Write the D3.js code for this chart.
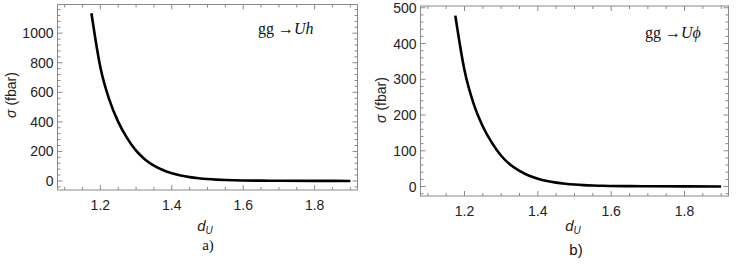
<!DOCTYPE html>
<html>
<head>
<meta charset="utf-8">
<script src="https://cdn.jsdelivr.net/npm/d3@7"></script>
<style>
  body { margin: 0; background: #fff; }
  svg { display: block; }
  .tick-label { font-family: "Liberation Sans", Arial, sans-serif; font-size: 14px; fill: #222; }
</style>
</head>
<body>
<svg id="chart" width="747" height="270"></svg>
<script>
const dU = [1.175, 1.2, 1.225, 1.25, 1.275, 1.3, 1.325, 1.35, 1.375, 1.4, 1.425, 1.45, 1.475, 1.5,
    1.525, 1.55, 1.575, 1.6, 1.65, 1.7, 1.8, 1.9]
// sigma (fbar) for gg -> U h
const sigmaUh = [1135, 770, 550, 400, 290, 205, 146, 104, 74, 52, 37, 26, 18.5, 13,
    9.3, 6.6, 4.7, 3.3, 2.3, 1.6, 0.8, 0.4]
// sigma (fbar) for gg -> U phi
const sigmaUphi = [478, 325, 231, 168, 122, 86, 61, 44, 31, 22, 15.5, 11, 7.8, 5.5,
    3.9, 2.8, 2.0, 1.4, 1.0, 0.7, 0.35, 0.17]

const xTicks = [1.2, 1.4, 1.6, 1.8]
const yTicksA = [0, 200, 400, 600, 800, 1000]
const yTicksB = [0, 100, 200, 300, 400, 500]

const svg = d3.select("#chart")

const drawPanel = (opt) => {
    const x = d3.scaleLinear().domain([1.08, 1.92]).range([opt.left, opt.right])
    const y = d3.scaleLinear().domain(opt.yDomain).range([opt.bottom, opt.top])
    const g = svg.append("g")

    // frame
    g.append("rect").attr("x", opt.left).attr("y", opt.top)
        .attr("width", opt.right - opt.left).attr("height", opt.bottom - opt.top)
        .attr("fill", "none").attr("stroke", "#8a8a8a").attr("stroke-width", 1)

    // ticks on all four sides, pointing inward
    const xMinor = d3.range(1.1, 1.92, 0.05).map(v => +v.toFixed(2))
    xMinor.forEach(v => {
        const major = xTicks.some(t => Math.abs(t - v) < 1e-6)
        const len = major ? 5 : 3
        g.append("line").attr("x1", x(v)).attr("x2", x(v)).attr("y1", opt.bottom).attr("y2", opt.bottom - len)
            .attr("stroke", "#8a8a8a")
        g.append("line").attr("x1", x(v)).attr("x2", x(v)).attr("y1", opt.top).attr("y2", opt.top + len)
            .attr("stroke", "#8a8a8a")
    })
    const yStep = (opt.yTicks[1] - opt.yTicks[0]) / 5
    const yMinor = d3.range(Math.ceil(opt.yDomain[0] / yStep) * yStep, opt.yDomain[1], yStep)
    yMinor.forEach(v => {
        const major = opt.yTicks.some(t => Math.abs(t - v) < 1e-6)
        const len = major ? 5 : 3
        g.append("line").attr("x1", opt.left).attr("x2", opt.left + len).attr("y1", y(v)).attr("y2", y(v))
            .attr("stroke", "#8a8a8a")
        g.append("line").attr("x1", opt.right).attr("x2", opt.right - len).attr("y1", y(v)).attr("y2", y(v))
            .attr("stroke", "#8a8a8a")
    })

    // tick labels
    g.selectAll(".xl").data(xTicks).join("text").attr("class", "tick-label")
        .attr("x", d => x(d)).attr("y", opt.bottom + 20).attr("text-anchor", "middle")
        .text(d => d.toFixed(1))
    g.selectAll(".yl").data(opt.yTicks).join("text").attr("class", "tick-label")
        .attr("x", opt.left - 4).attr("y", d => y(d) + 5).attr("text-anchor", "end")
        .text(d => d)

    // curve
    const line = d3.line().x((d, i) => x(dU[i])).y(d => y(d)).curve(d3.curveMonotoneX)
    g.append("path").datum(opt.values).attr("d", line)
        .attr("fill", "none").attr("stroke", "#000").attr("stroke-width", 2.6)

    // axis labels
    const yl = g.append("text").attr("transform", `translate(${opt.yLabelX},${opt.yLabelY}) rotate(-90)`)
        .attr("text-anchor", "middle").style("font-family", "Liberation Sans, Arial, sans-serif")
        .style("font-size", "14px").attr("fill", "#222")
    yl.append("tspan").style("font-style", "italic").text("σ")
    yl.append("tspan").text(" (fbar)")

    const xl = g.append("text").attr("x", opt.xLabelX).attr("y", 231)
        .attr("text-anchor", "middle").style("font-family", "Liberation Sans, Arial, sans-serif")
        .style("font-size", "15px").style("font-style", "italic").attr("fill", "#222")
    xl.append("tspan").text("d")
    xl.append("tspan").attr("dy", 3).style("font-size", "10px").text("U")

    g.append("text").attr("x", opt.xLabelX + 3).attr("y", opt.capY)
        .attr("text-anchor", "middle").style("font-family", opt.capFont)
        .style("font-size", "15px").attr("fill", "#111").text(opt.caption)

    // process annotation
    const ann = g.append("text").attr("x", opt.annX).attr("y", opt.annY)
        .style("font-family", "Liberation Serif, Times New Roman, serif").style("font-size", "16px").attr("fill", "#111")
    ann.append("tspan").text("gg \u2192")
    ann.append("tspan").style("font-style", "italic").text(opt.annText)
}

drawPanel({
    left: 57.5, right: 357.5, top: 4.5, bottom: 190,
    yDomain: [-61, 1194], yTicks: yTicksA, values: sigmaUh,
    yLabelX: 16, yLabelY: 95, xLabelX: 205, capY: 250, caption: "a)",
    capFont: "Liberation Serif, Times New Roman, serif",
    annX: 258, annY: 34, annText: "Uh"
})

drawPanel({
    left: 420.5, right: 728.5, top: 6, bottom: 196,
    yDomain: [-26.5, 505], yTicks: yTicksB, values: sigmaUphi,
    yLabelX: 386, yLabelY: 100, xLabelX: 573, capY: 255, caption: "b)",
    capFont: "Liberation Sans, Arial, sans-serif",
    annX: 645, annY: 38, annText: "U\u03D5"
})
</script>
</body>
</html>
